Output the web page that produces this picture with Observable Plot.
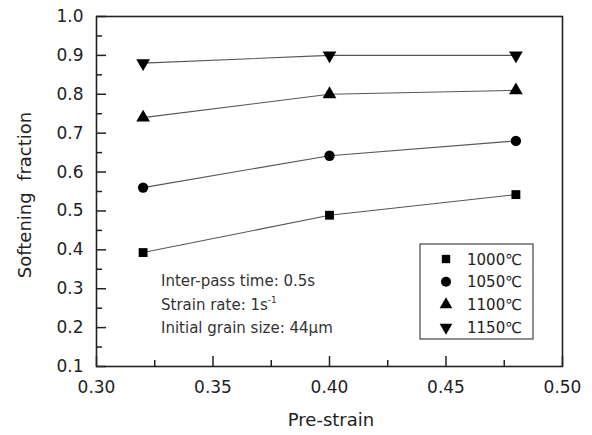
<!DOCTYPE html>
<html><head><meta charset="utf-8">
<script src="https://cdn.jsdelivr.net/npm/d3@7"></script>
<script src="https://cdn.jsdelivr.net/npm/@observablehq/plot@0.6"></script>
<style>body{margin:0;background:#fff}#chart{width:592px;height:435px}</style>
</head><body><div id="chart"></div>
<script>
const preStrain = [0.32, 0.40, 0.48];
const seriesNames = ["1000℃", "1050℃", "1100℃", "1150℃"];
const s1000 = [0.393, 0.489, 0.542];
const s1050 = [0.560, 0.642, 0.680];
const s1100 = [0.740, 0.800, 0.810];
const s1150 = [0.880, 0.900, 0.900];
const seriesSymbols = ["square", "circle", "triangle", "triangle"];
const seriesRotate = [0, 0, 0, 180];
const xTicks = [0.30, 0.35, 0.40, 0.45, 0.50];
const xMinor = [0.325, 0.375, 0.425, 0.475];
const yTicks = [0.1, 0.2, 0.3, 0.4, 0.5, 0.6, 0.7, 0.8, 0.9, 1.0];
const yMinor = [0.15, 0.25, 0.35, 0.45, 0.55, 0.65, 0.75, 0.85, 0.95];
const notes = ["Inter-pass time: 0.5s", "Strain rate: 1s", "Initial grain size: 44μm"];

const W = 592, H = 435, mL = 96, mR = 30, mT = 16, mB = 69;
const iW = W - mL - mR, iH = H - mT - mB;
const allSeries = [s1000, s1050, s1100, s1150];
const rows = [];
allSeries.forEach((vals, i) => vals.forEach((v, j) => rows.push({x: preStrain[j], y: v, s: seriesNames[i], i})));

const ink = "#222";
const font = "'DejaVu Sans', sans-serif";
const marks = [
  Plot.axisX({ticks: xTicks, tickSize: 0, tickPadding: 14, tickFormat: d3.format(".2f"), fontSize: 17, label: null, color: ink}),
  Plot.axisY({ticks: yTicks, tickSize: 0, tickPadding: 13, tickFormat: d3.format(".1f"), fontSize: 17, label: null, color: ink}),
  Plot.tickX(xTicks, {x: d => d, insetTop: iH - 10, stroke: ink, strokeWidth: 1.5}),
  Plot.tickX(xMinor, {x: d => d, insetTop: iH - 6, stroke: ink, strokeWidth: 1.5}),
  Plot.tickY(yTicks, {y: d => d, insetRight: iW - 10, stroke: ink, strokeWidth: 1.5}),
  Plot.tickY(yMinor, {y: d => d, insetRight: iW - 6, stroke: ink, strokeWidth: 1.5}),
  Plot.frame({stroke: ink, strokeWidth: 1.6}),
  Plot.line(rows, {x: "x", y: "y", z: "s", stroke: "#555", strokeWidth: 1.1})
];
const dotR = [5, 5.2, 5.1, 5.1];
seriesNames.forEach((name, i) => {
  marks.push(Plot.dot(rows.filter(r => r.i === i), {x: "x", y: "y", symbol: seriesSymbols[i], rotate: seriesRotate[i], r: dotR[i], fill: "#000", stroke: "none"}));
});

const chart = Plot.plot({
  width: W, height: H,
  marginLeft: mL, marginRight: mR, marginTop: mT, marginBottom: mB,
  style: {fontFamily: font, background: "#fff"},
  x: {domain: [0.30, 0.50], axis: null},
  y: {domain: [0.1, 1.0], axis: null},
  marks
});
document.getElementById("chart").appendChild(chart);

const svg = d3.select(chart);
// axis titles
svg.append("text").attr("x", mL + iW / 2 + 2).attr("y", 426).attr("text-anchor", "middle")
  .attr("font-family", font).attr("font-size", 18).attr("fill", ink).text("Pre-strain");
svg.append("text").attr("transform", `translate(31,${mT + iH / 2 + 4}) rotate(-90)`).attr("text-anchor", "middle")
  .attr("font-family", font).attr("font-size", 18).attr("fill", ink).attr("xml:space", "preserve")
  .style("white-space", "pre").text("Softening  fraction");

// annotation
const ann = svg.append("g").attr("font-family", font).attr("font-size", 15).attr("fill", "#333").attr("text-anchor", "start");
notes.forEach((t, k) => {
  const tx = ann.append("text").attr("x", 161).attr("y", 286 + k * 23.7).text(t);
  if (k === 1) tx.append("tspan").attr("dy", -7).attr("font-size", 9).text("-1");
});

// legend
const lg = svg.append("g").attr("font-family", font).attr("text-anchor", "start");
lg.append("rect").attr("x", 420).attr("y", 244).attr("width", 113).attr("height", 95)
  .attr("fill", "#fff").attr("stroke", "#444").attr("stroke-width", 1.2);
const symTypes = [d3.symbolSquare, d3.symbolCircle, d3.symbolTriangle, d3.symbolTriangle];
const symSizes = [70, 80, 70, 70];
seriesNames.forEach((name, i) => {
  const cy = 259 + i * 22.8;
  lg.append("path").attr("d", d3.symbol(symTypes[i], symSizes[i])())
    .attr("transform", `translate(446,${cy}) rotate(${seriesRotate[i]})`).attr("fill", "#000");
  lg.append("text").attr("x", 467).attr("y", cy + 5.5).attr("font-size", 15).attr("fill", "#222").text(name);
});
</script>
</body></html>
